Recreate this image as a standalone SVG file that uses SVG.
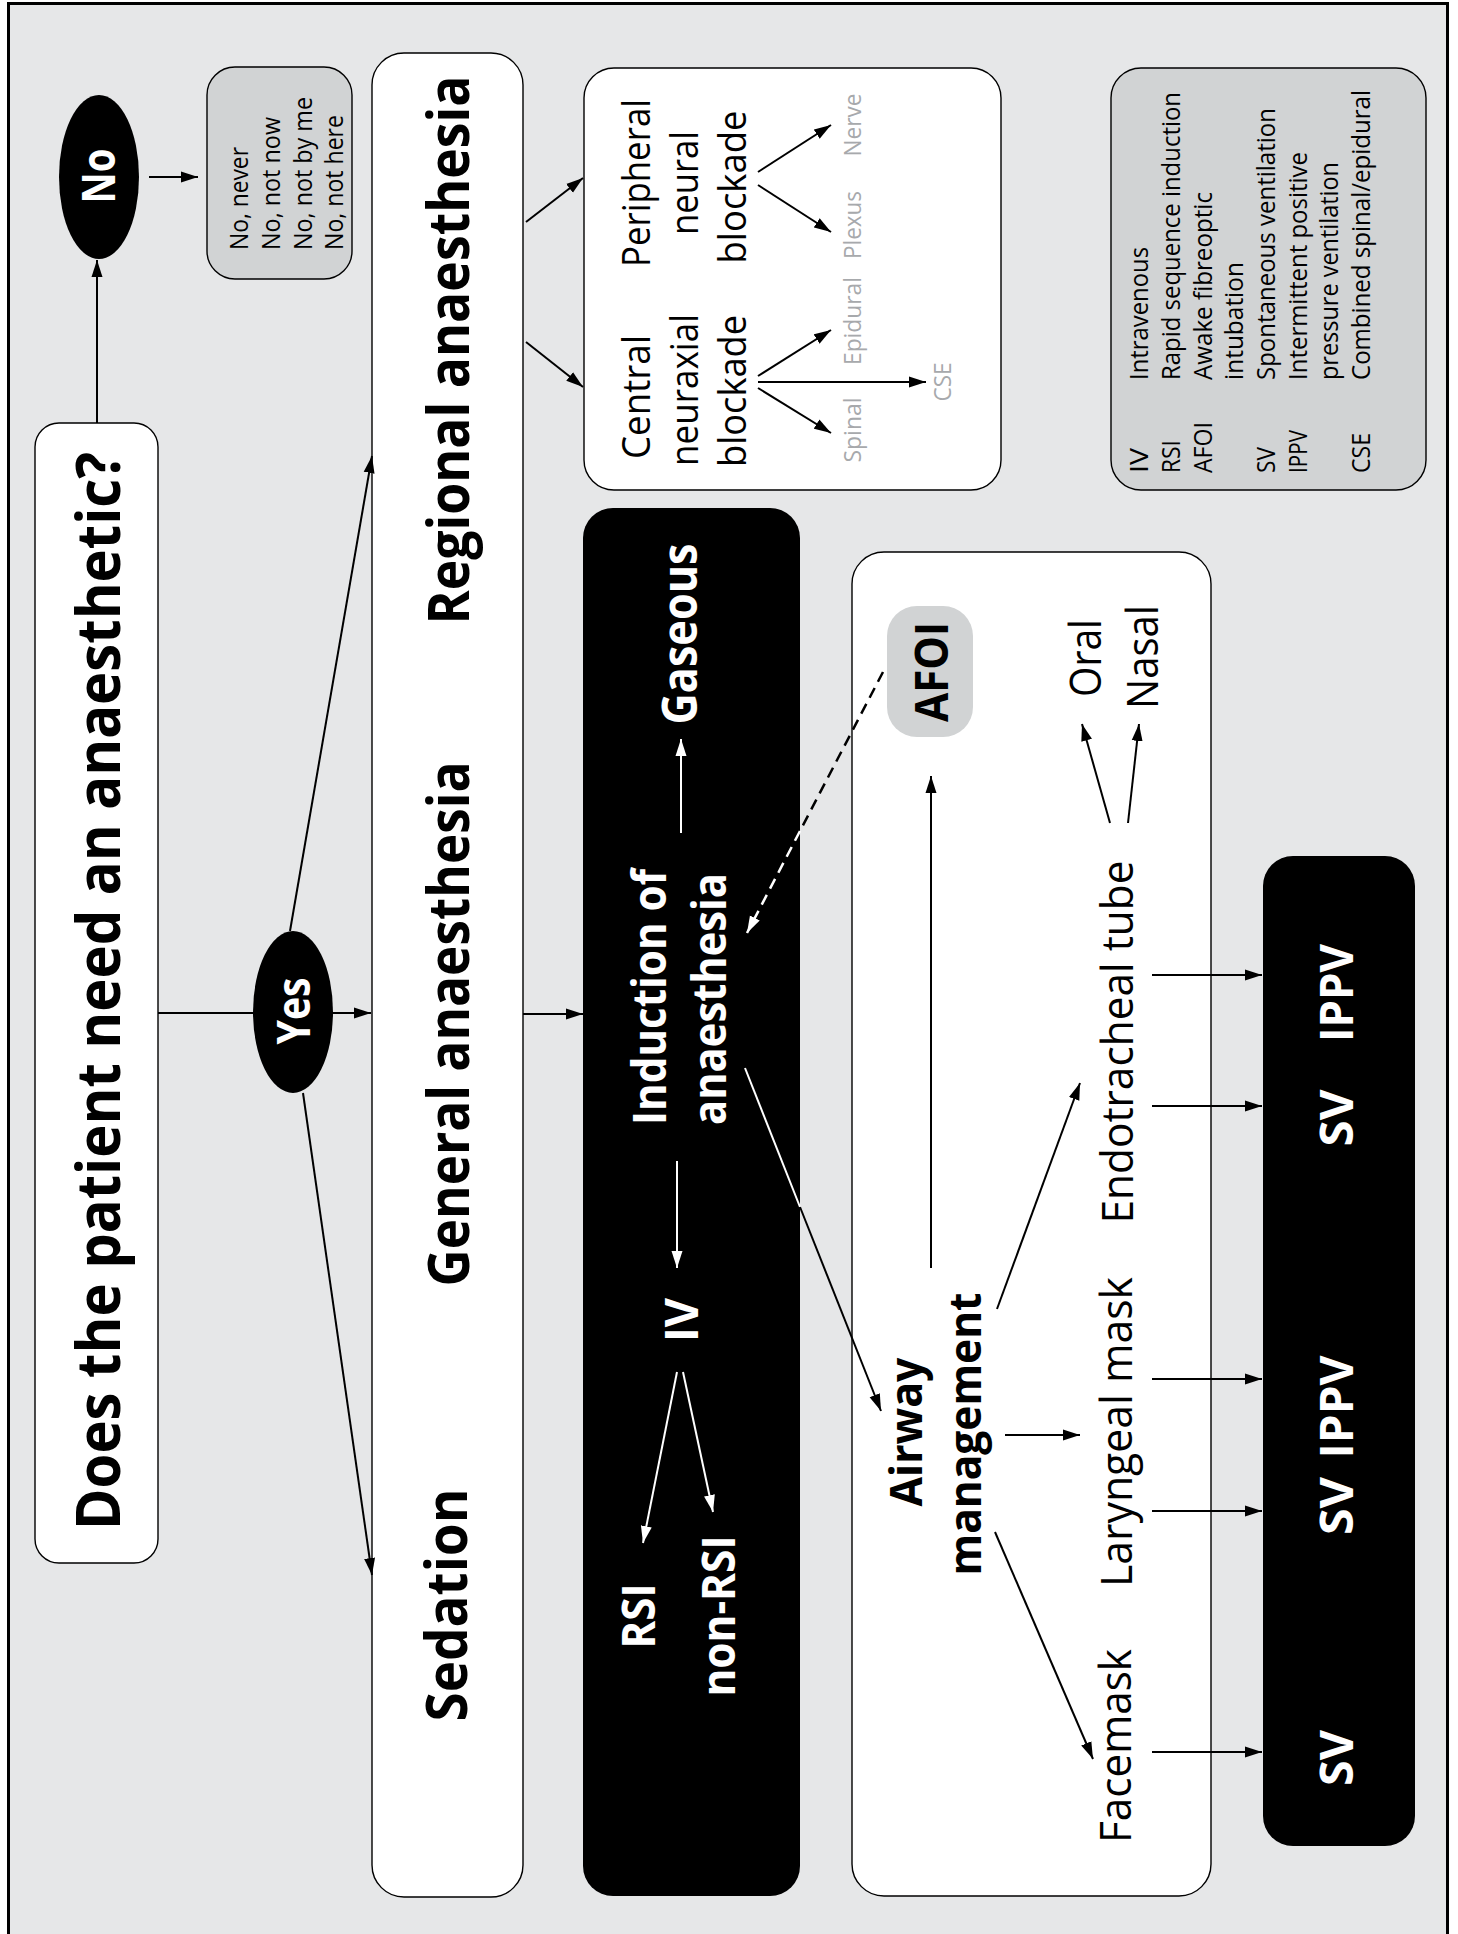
<svg xmlns="http://www.w3.org/2000/svg" width="1458" height="1934" viewBox="0 0 1458 1934">
<style>
.b{font-family:"Open Sans","Liberation Sans",sans-serif;font-weight:700}
.r{font-family:"Open Sans","Liberation Sans",sans-serif;font-weight:400}
.w{fill:#fff}
.k{fill:#000}
.g{fill:#a7a9ac}
.box{fill:#fff;stroke:#000;stroke-width:1.4}
.gbox{fill:#d1d3d4;stroke:#000;stroke-width:1.4}
.ln{stroke:#000;stroke-width:2;fill:none}
.wl{stroke:#fff;stroke-width:2;fill:none}
.dash{stroke-width:2.5;stroke-dasharray:11 7}
</style>
<defs>
<marker id="ab" markerUnits="userSpaceOnUse" markerWidth="18" markerHeight="12" refX="17" refY="6" orient="auto"><path d="M0,0.5 L17,6 L0,11.5 z" fill="#000"/></marker>
<marker id="aw" markerUnits="userSpaceOnUse" markerWidth="18" markerHeight="12" refX="17" refY="6" orient="auto"><path d="M0,0.5 L17,6 L0,11.5 z" fill="#fff"/></marker>
</defs>
<rect x="8.5" y="3.5" width="1439" height="1950" fill="#e6e7e8" stroke="#000" stroke-width="3"/>

<g id="title">
<rect class="box" x="35" y="423" width="123" height="1140" rx="24"/>
<text class="b k" font-size="60" transform="translate(120,991) rotate(-90)" text-anchor="middle" textLength="1078" lengthAdjust="spacingAndGlyphs">Does the patient need an anaesthetic?</text>
</g>

<g id="no">
<ellipse cx="99" cy="177" rx="40" ry="82" fill="#000"/>
<text class="b w" font-size="46" transform="translate(115,176) rotate(-90)" text-anchor="middle" textLength="55" lengthAdjust="spacingAndGlyphs">No</text>
</g>

<g id="no-list">
<rect class="gbox" x="207" y="67" width="145" height="212" rx="28"/>
<text class="r k" font-size="25" transform="translate(248,250) rotate(-90)" textLength="103" lengthAdjust="spacingAndGlyphs">No, never</text>
<text class="r k" font-size="25" transform="translate(280,250) rotate(-90)" textLength="133" lengthAdjust="spacingAndGlyphs">No, not now</text>
<text class="r k" font-size="25" transform="translate(312,250) rotate(-90)" textLength="153" lengthAdjust="spacingAndGlyphs">No, not by me</text>
<text class="r k" font-size="25" transform="translate(343,250) rotate(-90)" textLength="135" lengthAdjust="spacingAndGlyphs">No, not here</text>
</g>

<g id="yes">
<ellipse cx="293" cy="1012" rx="40" ry="81" fill="#000"/>
<text class="b w" font-size="46" transform="translate(310,1011) rotate(-90)" text-anchor="middle" textLength="67" lengthAdjust="spacingAndGlyphs">Yes</text>
</g>

<g id="anaesthesia-types">
<rect class="box" x="372" y="53" width="151" height="1844" rx="32"/>
<text class="b k" font-size="57" transform="translate(469,350) rotate(-90)" text-anchor="middle" textLength="549" lengthAdjust="spacingAndGlyphs">Regional anaesthesia</text>
<text class="b k" font-size="57" transform="translate(469,1024) rotate(-90)" text-anchor="middle" textLength="525" lengthAdjust="spacingAndGlyphs">General anaesthesia</text>
<text class="b k" font-size="57" transform="translate(467,1605) rotate(-90)" text-anchor="middle" textLength="233" lengthAdjust="spacingAndGlyphs">Sedation</text>
</g>

<g id="regional-detail">
<rect class="box" x="584" y="68" width="417" height="422" rx="30"/>
<text class="r k" font-size="38" transform="translate(650,397) rotate(-90)" text-anchor="middle" textLength="124" lengthAdjust="spacingAndGlyphs">Central</text>
<text class="r k" font-size="38" transform="translate(698,390) rotate(-90)" text-anchor="middle" textLength="152" lengthAdjust="spacingAndGlyphs">neuraxial</text>
<text class="r k" font-size="38" transform="translate(746,391) rotate(-90)" text-anchor="middle" textLength="152" lengthAdjust="spacingAndGlyphs">blockade</text>
<text class="r k" font-size="38" transform="translate(650,183) rotate(-90)" text-anchor="middle" textLength="168" lengthAdjust="spacingAndGlyphs">Peripheral</text>
<text class="r k" font-size="38" transform="translate(698,183) rotate(-90)" text-anchor="middle" textLength="104" lengthAdjust="spacingAndGlyphs">neural</text>
<text class="r k" font-size="38" transform="translate(746,187) rotate(-90)" text-anchor="middle" textLength="153" lengthAdjust="spacingAndGlyphs">blockade</text>
<text class="r g" font-size="24" transform="translate(861,430) rotate(-90)" text-anchor="middle" textLength="65" lengthAdjust="spacingAndGlyphs">Spinal</text>
<text class="r g" font-size="24" transform="translate(861,321) rotate(-90)" text-anchor="middle" textLength="88" lengthAdjust="spacingAndGlyphs">Epidural</text>
<text class="r g" font-size="24" transform="translate(951,382) rotate(-90)" text-anchor="middle" textLength="39" lengthAdjust="spacingAndGlyphs">CSE</text>
<text class="r g" font-size="24" transform="translate(861,225) rotate(-90)" text-anchor="middle" textLength="68" lengthAdjust="spacingAndGlyphs">Plexus</text>
<text class="r g" font-size="24" transform="translate(861,125) rotate(-90)" text-anchor="middle" textLength="63" lengthAdjust="spacingAndGlyphs">Nerve</text>
</g>

<g id="legend">
<rect class="gbox" x="1111" y="68" width="315" height="422" rx="30"/>
<g class="r k" font-size="25">
<text transform="translate(1148,473) rotate(-90)" textLength="25" lengthAdjust="spacingAndGlyphs">IV</text>
<text transform="translate(1180,473) rotate(-90)" textLength="33" lengthAdjust="spacingAndGlyphs">RSI</text>
<text transform="translate(1212,473) rotate(-90)" textLength="51" lengthAdjust="spacingAndGlyphs">AFOI</text>
<text transform="translate(1275,473) rotate(-90)" textLength="26" lengthAdjust="spacingAndGlyphs">SV</text>
<text transform="translate(1307,473) rotate(-90)" textLength="43" lengthAdjust="spacingAndGlyphs">IPPV</text>
<text transform="translate(1370,473) rotate(-90)" textLength="40" lengthAdjust="spacingAndGlyphs">CSE</text>
<text transform="translate(1148,380) rotate(-90)" textLength="133" lengthAdjust="spacingAndGlyphs">Intravenous</text>
<text transform="translate(1180,380) rotate(-90)" textLength="288" lengthAdjust="spacingAndGlyphs">Rapid sequence induction</text>
<text transform="translate(1212,380) rotate(-90)" textLength="188" lengthAdjust="spacingAndGlyphs">Awake fibreoptic</text>
<text transform="translate(1243,380) rotate(-90)" textLength="118" lengthAdjust="spacingAndGlyphs">intubation</text>
<text transform="translate(1275,380) rotate(-90)" textLength="272" lengthAdjust="spacingAndGlyphs">Spontaneous ventilation</text>
<text transform="translate(1307,380) rotate(-90)" textLength="228" lengthAdjust="spacingAndGlyphs">Intermittent positive</text>
<text transform="translate(1338,380) rotate(-90)" textLength="218" lengthAdjust="spacingAndGlyphs">pressure ventilation</text>
<text transform="translate(1370,380) rotate(-90)" textLength="290" lengthAdjust="spacingAndGlyphs">Combined spinal/epidural</text>
</g>
</g>

<g id="induction">
<rect x="583" y="508" width="217" height="1388" rx="30" fill="#000"/>
<text class="b w" font-size="48" transform="translate(697,634) rotate(-90)" text-anchor="middle" textLength="181" lengthAdjust="spacingAndGlyphs">Gaseous</text>
<text class="b w" font-size="46" transform="translate(666,997) rotate(-90)" text-anchor="middle" textLength="256" lengthAdjust="spacingAndGlyphs">Induction of</text>
<text class="b w" font-size="46" transform="translate(726,999) rotate(-90)" text-anchor="middle" textLength="252" lengthAdjust="spacingAndGlyphs">anaesthesia</text>
<text class="b w" font-size="46" transform="translate(698,1320) rotate(-90)" text-anchor="middle" textLength="44" lengthAdjust="spacingAndGlyphs">IV</text>
<text class="b w" font-size="46" transform="translate(655,1616) rotate(-90)" text-anchor="middle" textLength="65" lengthAdjust="spacingAndGlyphs">RSI</text>
<text class="b w" font-size="46" transform="translate(735,1616) rotate(-90)" text-anchor="middle" textLength="161" lengthAdjust="spacingAndGlyphs">non-RSI</text>
</g>

<g id="airway">
<rect class="box" x="852" y="552" width="359" height="1344" rx="32"/>
<text class="b k" font-size="44" transform="translate(922,1432) rotate(-90)" text-anchor="middle" textLength="149" lengthAdjust="spacingAndGlyphs">Airway</text>
<text class="b k" font-size="44" transform="translate(981,1434) rotate(-90)" text-anchor="middle" textLength="283" lengthAdjust="spacingAndGlyphs">management</text>
<text class="r k" font-size="43" transform="translate(1101,658) rotate(-90)" text-anchor="middle" textLength="78" lengthAdjust="spacingAndGlyphs">Oral</text>
<text class="r k" font-size="43" transform="translate(1158,657) rotate(-90)" text-anchor="middle" textLength="104" lengthAdjust="spacingAndGlyphs">Nasal</text>
<text class="r k" font-size="43" transform="translate(1133,1042) rotate(-90)" text-anchor="middle" textLength="363" lengthAdjust="spacingAndGlyphs">Endotracheal tube</text>
<text class="r k" font-size="43" transform="translate(1132,1432) rotate(-90)" text-anchor="middle" textLength="310" lengthAdjust="spacingAndGlyphs">Laryngeal mask</text>
<text class="r k" font-size="43" transform="translate(1131,1746) rotate(-90)" text-anchor="middle" textLength="194" lengthAdjust="spacingAndGlyphs">Facemask</text>
</g>

<g id="afoi">
<rect x="887" y="606" width="86" height="131" rx="30" fill="#d1d3d4"/>
<text class="b k" font-size="47" transform="translate(948,672) rotate(-90)" text-anchor="middle" textLength="100" lengthAdjust="spacingAndGlyphs">AFOI</text>
</g>

<g id="ventilation">
<rect x="1263" y="856" width="152" height="990" rx="30" fill="#000"/>
<text class="b w" font-size="46" transform="translate(1353,993) rotate(-90)" text-anchor="middle" textLength="98" lengthAdjust="spacingAndGlyphs">IPPV</text>
<text class="b w" font-size="46" transform="translate(1353,1118) rotate(-90)" text-anchor="middle" textLength="57" lengthAdjust="spacingAndGlyphs">SV</text>
<text class="b w" font-size="46" transform="translate(1353,1407) rotate(-90)" text-anchor="middle" textLength="103" lengthAdjust="spacingAndGlyphs">IPPV</text>
<text class="b w" font-size="46" transform="translate(1353,1506) rotate(-90)" text-anchor="middle" textLength="58" lengthAdjust="spacingAndGlyphs">SV</text>
<text class="b w" font-size="46" transform="translate(1353,1758) rotate(-90)" text-anchor="middle" textLength="56" lengthAdjust="spacingAndGlyphs">SV</text>
</g>

<g id="connectors">
<line class="ln" x1="97" y1="423" x2="97" y2="260" marker-end="url(#ab)"/>
<line class="ln" x1="149" y1="177" x2="198" y2="177" marker-end="url(#ab)"/>
<line class="ln" stroke-width="1.5" x1="158" y1="1013" x2="253" y2="1013"/>
<line class="ln" x1="333" y1="1013" x2="371" y2="1013" marker-end="url(#ab)"/>
<line class="ln" x1="290" y1="931" x2="372" y2="456" marker-end="url(#ab)"/>
<line class="ln" x1="303" y1="1093" x2="372" y2="1575" marker-end="url(#ab)"/>
<line class="ln" stroke-width="1.5" x1="523" y1="1014" x2="583" y2="1014" marker-end="url(#ab)"/>
<line class="ln" x1="526" y1="222" x2="583" y2="178" marker-end="url(#ab)"/>
<line class="ln" x1="526" y1="342" x2="583" y2="387" marker-end="url(#ab)"/>
<line class="ln" x1="758" y1="376" x2="831" y2="330" marker-end="url(#ab)"/>
<line class="ln" x1="758" y1="382" x2="926" y2="382" marker-end="url(#ab)"/>
<line class="ln" x1="758" y1="388" x2="831" y2="433" marker-end="url(#ab)"/>
<line class="ln" x1="758" y1="172" x2="831" y2="125" marker-end="url(#ab)"/>
<line class="ln" x1="758" y1="185" x2="831" y2="232" marker-end="url(#ab)"/>
<line class="wl" x1="681" y1="833" x2="681" y2="739" marker-end="url(#aw)"/>
<line class="wl" x1="677" y1="1161" x2="677" y2="1268" marker-end="url(#aw)"/>
<line class="wl" x1="677" y1="1372" x2="643" y2="1543" marker-end="url(#aw)"/>
<line class="wl" x1="683" y1="1372" x2="713" y2="1512" marker-end="url(#aw)"/>
<line class="wl" x1="745" y1="1068" x2="800" y2="1207"/>
<line class="ln" x1="800" y1="1207" x2="881" y2="1411" marker-end="url(#ab)"/>
<line class="ln dash" x1="883" y1="672" x2="800" y2="831"/>
<line class="wl dash" x1="800" y1="831" x2="747" y2="933" marker-end="url(#aw)"/>
<line class="ln" stroke-width="1.3" x1="931" y1="1268" x2="931" y2="776" marker-end="url(#ab)"/>
<line class="ln" x1="997" y1="1309" x2="1080" y2="1083" marker-end="url(#ab)"/>
<line class="ln" x1="1005" y1="1435" x2="1080" y2="1435" marker-end="url(#ab)"/>
<line class="ln" x1="995" y1="1532" x2="1093" y2="1759" marker-end="url(#ab)"/>
<line class="ln" x1="1110" y1="823" x2="1082" y2="724" marker-end="url(#ab)"/>
<line class="ln" x1="1128" y1="823" x2="1139" y2="724" marker-end="url(#ab)"/>
<line class="ln" x1="1152" y1="975" x2="1262" y2="975" marker-end="url(#ab)"/>
<line class="ln" x1="1152" y1="1106" x2="1262" y2="1106" marker-end="url(#ab)"/>
<line class="ln" x1="1152" y1="1379" x2="1262" y2="1379" marker-end="url(#ab)"/>
<line class="ln" x1="1152" y1="1511" x2="1262" y2="1511" marker-end="url(#ab)"/>
<line class="ln" x1="1152" y1="1752" x2="1262" y2="1752" marker-end="url(#ab)"/>
</g>
</svg>
